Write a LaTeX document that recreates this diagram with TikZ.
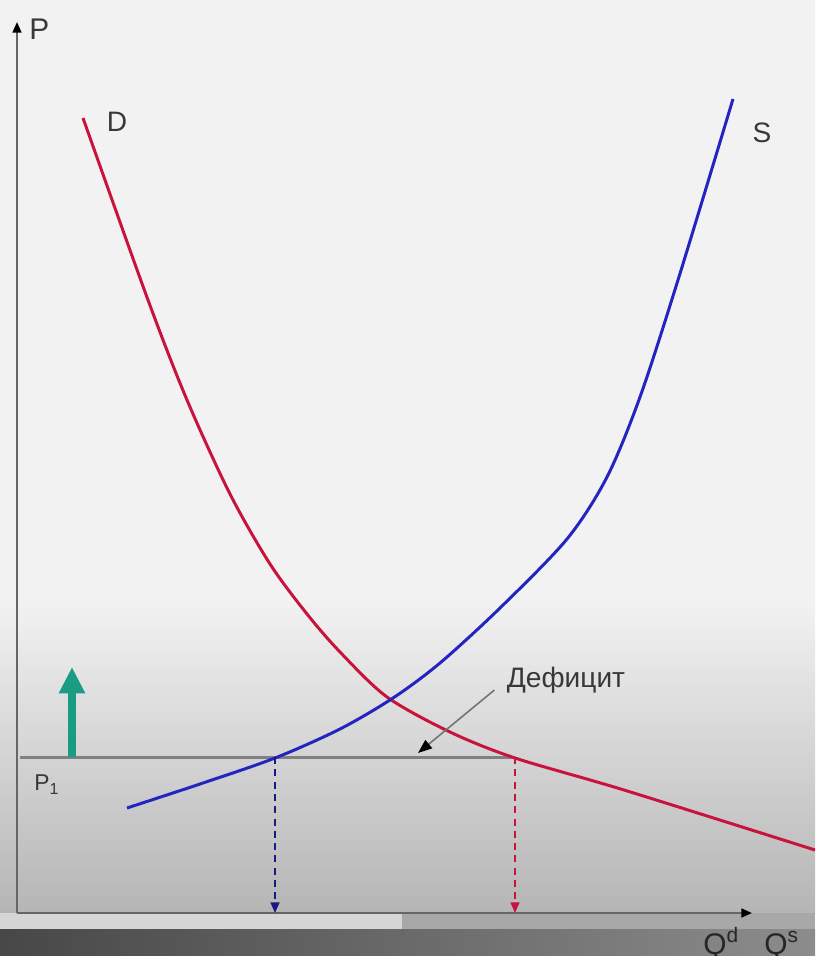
\documentclass[tikz,border=0pt]{standalone}
\usepackage{fontspec}
\setmainfont{Liberation Sans}
\usetikzlibrary{arrows.meta}
\definecolor{demand}{HTML}{C8143C}
\definecolor{supply}{HTML}{2424C0}
\definecolor{rise}{HTML}{1A9C84}
\definecolor{ink}{HTML}{383838}
\tikzset{
  lbl/.style={text=ink,inner sep=0pt},
  axis/.style={draw=black!60,line width=1.2pt,-{Triangle[length=6pt,width=5pt,color=black]}},
  drop/.style={line width=.9pt,dash pattern=on 4pt off 3pt},
  curve/.style={line width=1.7pt,smooth,tension=.5}
}
\begin{document}
\begin{tikzpicture}[x=0.02cm,y=-0.02cm]
\useasboundingbox (0,0) rectangle (815,956);
\clip (0,0) rectangle (815,956);
% background and player bar
\fill[black!5] (0,0) rectangle (815,600);
\shade[top color=black!5,bottom color=black!29] (0,600) rectangle (815,913);
\fill[black!16] (0,913) rectangle (402,929);
\fill[black!34] (402,913) rectangle (815,929);
\shade[left color=black!72,right color=black!45] (0,929) rectangle (815,956);
% axes
\coordinate (O) at (17,913);
\coordinate (ptop) at (17,22);
\coordinate (qend) at (752,913);
\draw[axis] (O)--(ptop);
\draw[axis] (O)--(qend);
\node[lbl,anchor=west,font=\fontsize{17}{20}\selectfont] (plab) at (29,29) {P};
\node[lbl,anchor=base west,text=black!85,font=\fontsize{17}{20}\selectfont] (qdlab) at (703,954) {Q\textsuperscript{d}};
\node[lbl,anchor=base west,text=black!85,font=\fontsize{17}{20}\selectfont] (qslab) at (764,954) {Q\textsuperscript{s}};
% price level P1
\coordinate (p1a) at (20,757);
\coordinate (qd) at (275,757);
\coordinate (qs) at (515,757);
\draw[black!50,line width=1.7pt] (p1a)--(qs);
\node[lbl,font=\fontsize{13}{16}\selectfont] (p1lab) at (47,785) {P\textsubscript{1}};
\coordinate (risebot) at (72,757);
\coordinate (risetop) at (72,667);
\draw[rise,line width=5pt,-{Triangle[length=15pt,width=14pt]}] (risebot)--(risetop);
% curves
\draw[demand,curve] plot coordinates {(83,118) (148,300) (187,400) (230,494) (270,564) (307,614) (340,652) (387,697) (450,732) (515,758) (624,790) (815,850)};
\draw[supply,curve] plot coordinates {(127,808) (200,784) (275,758) (340,729) (393,698) (440,663) (500,608) (567,539) (607,477) (640,397) (678,280) (733,99)};
\node[lbl,font=\fontsize{16}{19}\selectfont] (dlab) at (117,122) {D};
\node[lbl,font=\fontsize{16}{19}\selectfont] (slab) at (762,133) {S};
% drops to the quantity axis
\coordinate (qdfoot) at (275,913);
\coordinate (qsfoot) at (515,913);
\draw[supply!70!black,drop,-{Triangle[length=6pt,width=5pt]}] (qd)--(qdfoot);
\draw[demand,drop,-{Triangle[length=6pt,width=5pt]}] (qs)--(qsfoot);
% shortage label
\node[lbl,font=\fontsize{16}{19}\selectfont] (def) at (566,680) {Дефицит};
\coordinate (defend) at (418,753);
\draw[black!55,line width=.9pt,shorten <=9pt,-{Triangle[length=8pt,width=6pt,color=black]}] (def.west)--(defend);
\end{tikzpicture}
\end{document}
